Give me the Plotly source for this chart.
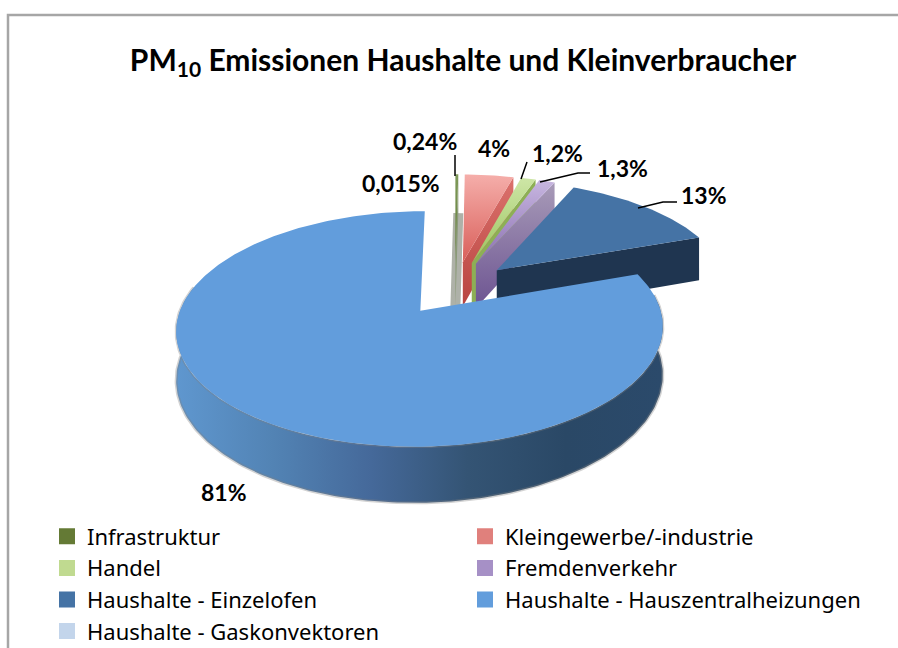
import math
import plotly.graph_objects as go

categories = ["Infrastruktur", "Kleingewerbe/-industrie", "Handel", "Fremdenverkehr",
              "Haushalte - Einzelofen", "Haushalte - Hauszentralheizungen", "Haushalte - Gaskonvektoren"]
values = [0.24, 4.0, 1.2, 1.3, 13.0, 81.0, 0.015]
labels = ["0,24%", "4%", "1,2%", "1,3%", "13%", "81%", "0,015%"]
legend_colors = ["#647A35", "#E0807C", "#C0DA90", "#A690C6", "#4573A5", "#629DDC", "#C3D5EB"]
label_x = [425, 494, 557, 622, 704, 224, 401]
label_y = [141, 148, 153, 168, 195, 492, 183]

# projection of the tilted disc onto the page
CX, CY, R, A, P, DEPTH, EXPLODE = 455.0, 288.0, 233.0, 108.0, 0.15, 46.0, 0.25


def project(u, v, z=0.0):
    s = 1.0 / (1.0 + P * v)
    return CX + R * u * s, CY - A * v * s + DEPTH * z * s


def arc(offset, a0, a1, z=0.0):
    n = max(2, int(abs(a1 - a0)) + 2)
    pts = []
    for i in range(n):
        t = math.radians(a0 + (a1 - a0) * i / (n - 1))
        pts.append(project(offset[0] + math.sin(t), offset[1] + math.cos(t), z))
    return pts


def poly(fig, pts, color=None, gradient=None, line=None):
    xs = [p[0] for p in pts] + [pts[0][0]]
    ys = [p[1] for p in pts] + [pts[0][1]]
    kw = dict(x=xs, y=ys, mode="lines", fill="toself", showlegend=False, hoverinfo="skip",
              line=dict(width=0, color="rgba(0,0,0,0)") if line is None else line)
    if gradient:
        kw["fillgradient"] = gradient
        kw["fillcolor"] = "rgba(0,0,0,0)"
    else:
        kw["fillcolor"] = color
    fig.add_trace(go.Scatter(**kw))


def wall(fig, offset, ang, color=None, gradient=None):
    t = math.radians(ang)
    u, v = offset[0] + math.sin(t), offset[1] + math.cos(t)
    pts = [project(*offset), project(u, v), project(u, v, 1), project(offset[0], offset[1], 1)]
    poly(fig, pts, color=color, gradient=gradient)


def vgrad(*stops):
    n = len(stops) - 1
    return dict(type="vertical", colorscale=[[i / n, c] for i, c in enumerate(stops)])


def hgrad(*stops):
    n = len(stops) - 1
    return dict(type="horizontal", colorscale=[[i / n, c] for i, c in enumerate(stops)])


tops = [vgrad("#5E7A33", "#7F9A5A"), vgrad("#D95F5A", "#F5AEAA"), vgrad("#9CC45E", "#CDE6A6"),
        vgrad("#8A6FB0", "#C7B6E0"), None, None, None]
sides = ["#8A9A78", vgrad("#B8433F", "#DB716C"), "#8DAF55",
         vgrad("#6C5391", "#A89BB8"), "#1F3550", None, "#BBBBBB"]

total = sum(values)
fig = go.Figure()
angle = 0.0
spans = []
for val in values:
    spans.append((angle, angle + val / total * 360.0))
    angle += val / total * 360.0

offsets = []
for a0, a1 in spans:
    mid = math.radians((a0 + a1) / 2)
    offsets.append((EXPLODE * math.sin(mid), EXPLODE * math.cos(mid)))

# soft grey band behind the very thin first slices
o0 = offsets[0]
b0 = project(o0[0], o0[1], 1)
b1 = project(o0[0] + math.sin(math.radians(spans[0][1])), o0[1] + math.cos(math.radians(spans[0][1])), 1)
fig.add_trace(go.Scatter(x=[b1[0], b0[0]], y=[b1[1], b0[1]], mode="lines", showlegend=False, hoverinfo="skip",
                         line=dict(color="rgba(120,125,110,0.6)", width=10)))

for i in [6, 0, 1, 2, 3, 4]:
    a0, a1 = spans[i]
    off = offsets[i]
    wall(fig, off, a1, color=None if isinstance(sides[i], dict) else sides[i],
         gradient=sides[i] if isinstance(sides[i], dict) else None)
    top = [project(*off)] + arc(off, a0, a1)
    if tops[i]:
        poly(fig, top, gradient=tops[i])
    else:
        poly(fig, top, color=legend_colors[i])

# large slice: outer wall then top face
a0, a1 = spans[5]
off = offsets[5]
front = arc(off, 82, 282)
front_low = arc(off, 282, 82, 1)
poly(fig, front + front_low,
     gradient=hgrad("#5F97CF", "#5283B4", "#45699A", "#345474", "#2A4866", "#2B4A6B"),
     line=dict(width=3, color="rgba(130,130,130,0.35)"))
poly(fig, [project(*off)] + arc(off, a0, a1), color=legend_colors[5])

# legend entries
for name, col in zip(categories, legend_colors):
    fig.add_trace(go.Scatter(x=[None], y=[None], mode="markers", name=name,
                             marker=dict(symbol="square", size=16, color=col)))

# leader lines
leaders = [[(455, 155), (455, 176)],
           [(527, 162), (521, 179)],
           [(590, 173), (578, 173), (540, 182)],
           [(677, 202), (663, 202), (638, 208)]]
for seg in leaders:
    fig.add_trace(go.Scatter(x=[p[0] for p in seg], y=[p[1] for p in seg], mode="lines", showlegend=False,
                             hoverinfo="skip", line=dict(color="#000000", width=1.5)))

for text, lx, ly in zip(labels, label_x, label_y):
    fig.add_annotation(x=lx, y=ly, xref="x", yref="y", text="<b>%s</b>" % text, showarrow=False,
                       font=dict(family="Lato", size=23, color="#000000"))

fig.update_layout(
    width=898, height=648, margin=dict(l=0, r=0, t=0, b=0, autoexpand=False),
    paper_bgcolor="#FFFFFF", plot_bgcolor="#FFFFFF",
    title=dict(text="<b>PM<sub>10</sub> Emissionen Haushalte und Kleinverbraucher</b>",
               x=463 / 898, y=1 - 60 / 648, xanchor="center", yanchor="middle",
               font=dict(family="Lato", size=30, color="#000000")),
    xaxis=dict(range=[0, 898], visible=False, fixedrange=True),
    yaxis=dict(range=[648, 0], visible=False, fixedrange=True),
    showlegend=True,
    legend=dict(orientation="h", x=47 / 898, y=1 - 515.5 / 648, xanchor="left", yanchor="top",
                entrywidth=373, entrywidthmode="pixels", traceorder="normal",
                bgcolor="rgba(0,0,0,0)", font=dict(family="Noto Sans", size=22, color="#000000")),
    shapes=[dict(type="path", xref="x", yref="y", path="M 8 660 L 8 15 L 900 15",
                 line=dict(color="#A6A6A6", width=2.5))],
)
fig.write_html("out.html", config=dict(displayModeBar=False), post_script="document.body.style.margin='0';")
